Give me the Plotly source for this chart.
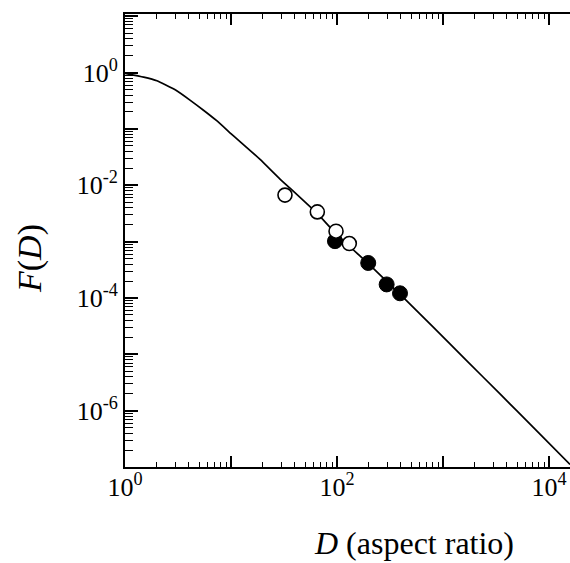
import plotly.graph_objects as go

# Curve F(D)
curve_D = [1, 1.5, 2, 3, 4.1, 5.5, 7.33, 10.5, 14.1, 18.8, 29, 36, 65, 97.8, 200, 438,
           809, 1670, 3450, 7110, 15780]
curve_F = [0.97, 0.83, 0.715, 0.49, 0.325, 0.215, 0.14, 0.0759, 0.0467, 0.0288, 0.0129,
           8.9e-3, 3.16e-3, 1.38e-3, 3.98e-4, 9.55e-5, 3.03e-5, 7.74e-6, 1.98e-6, 5.06e-7,
           1.11e-7]

# Open-circle data
open_D = [32.3, 65.2, 97.9, 130.6]
open_F = [6.7e-3, 3.37e-3, 1.53e-3, 9.25e-4]

# Filled-circle data
filled_D = [95.7, 197, 294, 393]
filled_F = [1.02e-3, 4.18e-4, 1.74e-4, 1.21e-4]

x_major = [1, 100, 10000]
x_labels = ['10<sup>0</sup>', '10<sup>2</sup>', '10<sup>4</sup>']
x_odd = [10, 1000]
y_major = [1e-6, 1e-4, 1e-2, 1]
y_labels = ['10<sup>-6</sup>', '10<sup>-4</sup>', '10<sup>-2</sup>', '10<sup>0</sup>']
y_odd = [1e-7, 1e-5, 1e-3, 1e-1, 10]

x_minor = [m * 10 ** e for e in range(0, 5) for m in range(2, 10)]
y_minor = [m * 10.0 ** e for e in range(-7, 2) for m in range(2, 10)]

font = 'Liberation Serif, Times New Roman, serif'
XR = [0, 4.198]
YR = [-7, 1.04]

fig = go.Figure()
fig.add_trace(go.Scatter(x=curve_D, y=curve_F, mode='lines',
                         line=dict(color='black', width=1.7, shape='spline', smoothing=0.4),
                         showlegend=False))
# markers on the overlay axes (same ranges) so they sit above the curve
fig.add_trace(go.Scatter(x=filled_D, y=filled_F, mode='markers', xaxis='x2', yaxis='y2',
                         marker=dict(symbol='circle', size=15, color='black',
                                     line=dict(color='black', width=1)),
                         showlegend=False))
fig.add_trace(go.Scatter(x=open_D, y=open_F, mode='markers', xaxis='x2', yaxis='y2',
                         marker=dict(symbol='circle', size=14, color='white',
                                     line=dict(color='black', width=1.6)),
                         showlegend=False))

fig.update_layout(
    width=570, height=563,
    margin=dict(l=125, r=0, t=14, b=96),
    plot_bgcolor='white', paper_bgcolor='white',
    font=dict(family=font, color='black'),
    xaxis=dict(type='log', range=XR, showline=True, linewidth=2, linecolor='black',
               mirror='ticks', showgrid=False, zeroline=False,
               ticks='inside', ticklen=11, tickwidth=1.5, tickcolor='black',
               tickmode='array', tickvals=x_major, ticktext=x_labels,
               tickfont=dict(size=26, family=font), ticklabelstandoff=-4,
               minor=dict(ticks='inside', ticklen=5, tickwidth=1, tickcolor='black',
                          tickmode='array', tickvals=x_minor, showgrid=False)),
    yaxis=dict(type='log', range=YR, showline=True, linewidth=2, linecolor='black',
               mirror=False, showgrid=False, zeroline=False,
               ticks='inside', ticklen=13, tickwidth=1.5, tickcolor='black',
               tickmode='array', tickvals=y_major, ticktext=y_labels,
               tickfont=dict(size=26, family=font),
               minor=dict(ticks='inside', ticklen=8, tickwidth=1, tickcolor='black',
                          tickmode='array', tickvals=y_minor, showgrid=False)),
    xaxis2=dict(type='log', range=XR, overlaying='x', anchor='y', side='bottom',
                showline=False, mirror='ticks', showgrid=False, zeroline=False,
                ticks='inside', ticklen=11, tickwidth=1.5, tickcolor='black',
                tickmode='array', tickvals=x_odd, showticklabels=False),
    yaxis2=dict(type='log', range=YR, overlaying='y', anchor='x', side='left',
                showline=False, showgrid=False, zeroline=False,
                ticks='inside', ticklen=13, tickwidth=1.5, tickcolor='black',
                tickmode='array', tickvals=y_odd, showticklabels=False),
    annotations=[
        dict(text='<i>F</i>(<i>D</i>)', xref='paper', yref='paper',
             x=(30 - 125) / 445, y=(467 - 259) / 453, showarrow=False, textangle=-90,
             font=dict(size=34, family=font), xanchor='center', yanchor='middle'),
        dict(text='<i>D</i> (aspect ratio)', xref='paper', yref='paper',
             x=(414 - 125) / 445, y=-(543 - 467) / 453, showarrow=False,
             font=dict(size=32, family=font), xanchor='center', yanchor='middle'),
    ],
)

fig.write_html('out.html')
